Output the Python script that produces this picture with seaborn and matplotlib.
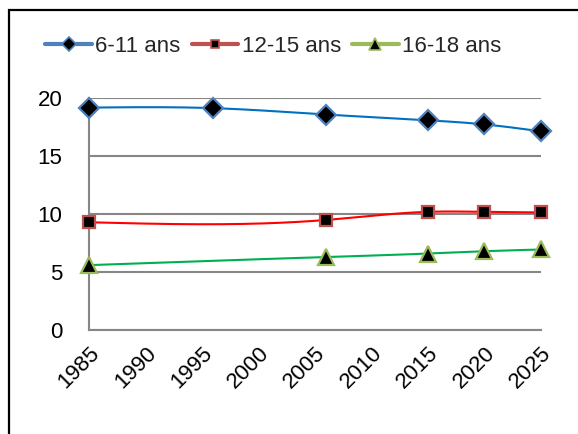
import numpy as np
import pandas as pd
import matplotlib
matplotlib.use("Agg")
import matplotlib.pyplot as plt
import seaborn as sb
from matplotlib.lines import Line2D
from matplotlib.patches import Rectangle

# data
years_611 = [1985, 1996, 2006, 2015, 2020, 2025]
vals_611 = [19.2, 19.15, 18.6, 18.1, 17.75, 17.15]
years_1215 = [1985, 2006, 2015, 2020, 2025]
vals_1215 = [9.3, 9.5, 10.2, 10.2, 10.15]
years_1618 = [1985, 2006, 2015, 2020, 2025]
vals_1618 = [5.6, 6.3, 6.6, 6.8, 6.95]
labels = ['6-11 ans', '12-15 ans', '16-18 ans']
xticks = list(range(1985, 2030, 5))
yticks = [0, 5, 10, 15, 20]


def smooth(x, y, n=300):
    # natural cubic spline through the points (line smoothing only)
    x = np.asarray(x, float)
    y = np.asarray(y, float)
    k = len(x)
    h = np.diff(x)
    A = np.zeros((k, k))
    b = np.zeros(k)
    A[0, 0] = A[-1, -1] = 1
    for i in range(1, k - 1):
        A[i, i - 1] = h[i - 1]
        A[i, i] = 2 * (h[i - 1] + h[i])
        A[i, i + 1] = h[i]
        b[i] = 6 * ((y[i + 1] - y[i]) / h[i] - (y[i] - y[i - 1]) / h[i - 1])
    M = np.linalg.solve(A, b)
    xs = np.linspace(x[0], x[-1], n)
    idx = np.clip(np.searchsorted(x, xs) - 1, 0, k - 2)
    x0, x1 = x[idx], x[idx + 1]
    hh = x1 - x0
    t0, t1 = x1 - xs, xs - x0
    ys = (M[idx] * t0**3 + M[idx + 1] * t1**3) / (6 * hh) \
        + (y[idx] / hh - M[idx] * hh / 6) * t0 \
        + (y[idx + 1] / hh - M[idx + 1] * hh / 6) * t1
    return xs, ys


sb.set_style("white")
plt.rcParams['font.family'] = ['Liberation Sans', 'DejaVu Sans']

fig = plt.figure(figsize=(5.78, 4.34), dpi=100)
ax = fig.add_axes([0.154, 0.2396, 0.7815, 0.5339])

series = [
    (years_611, vals_611, '#0070C0', '#4F81BD', 'D', 10),
    (years_1215, vals_1215, '#FF0000', '#C0504D', 's', 8.5),
    (years_1618, vals_1618, '#00B050', '#9BBB59', '^', 12),
]

handles = []
for (xs, ys, lc, ec, mk, ms), lab in zip(series, labels):
    sx, sy = smooth(xs, ys)
    sb.lineplot(x=sx, y=sy, ax=ax, color=lc, lw=1.5, zorder=3)
    df = pd.DataFrame({'year': xs, 'val': ys})
    ax.plot(df['year'], df['val'], ls='none', marker=mk, ms=ms, mfc='black',
            mec=ec, mew=1.6, zorder=4, clip_on=False)
    handles.append(Line2D([], [], color=ec, lw=3, marker=mk, ms=ms * 0.75,
                          mfc='black', mec=ec, mew=1.2))

ax.set_xlim(1985, 2025)
ax.set_ylim(0, 20)
ax.set_xticks(xticks)
ax.set_yticks(yticks)
ax.set_xticklabels([str(t) for t in xticks], rotation=45, ha='right',
                   rotation_mode='anchor')
ax.tick_params(axis='both', labelsize=16, colors='#868686', length=6,
               width=1.5, direction='out', labelcolor='black')
ax.tick_params(axis='x', pad=3)
ax.tick_params(axis='y', pad=13)
ax.grid(axis='y', color='#868686', lw=1.5)
ax.grid(axis='x', visible=False)
for s in ['top', 'right']:
    ax.spines[s].set_visible(False)
for s in ['left', 'bottom']:
    ax.spines[s].set_color('#868686')
    ax.spines[s].set_linewidth(1.5)
ax.set_xlabel('')
ax.set_ylabel('')

fig.legend(handles, labels, loc='center', bbox_to_anchor=(0.473, 0.894),
           ncol=3, frameon=False, fontsize=16, handlelength=2.1,
           handletextpad=0.15, columnspacing=0.5)

# chart border (extends past the right/bottom edge)
fig.patches.append(Rectangle((9 / 578, -0.1), 1.2, 1 - 10 / 434 + 0.1,
                             transform=fig.transFigure, fill=False,
                             ec='black', lw=1.6))

fig.savefig('out.png', dpi=100)
